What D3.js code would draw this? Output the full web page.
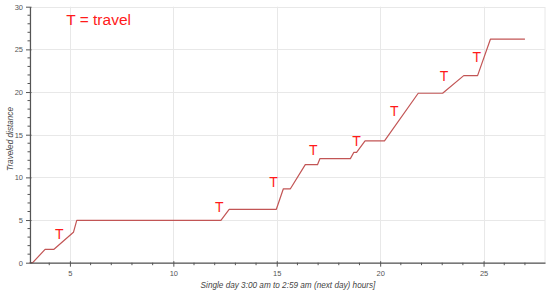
<!DOCTYPE html>
<html>
<head>
<meta charset="utf-8">
<script src="https://cdn.jsdelivr.net/npm/d3@7"></script>
<style>
  html, body { margin: 0; padding: 0; background: #fff; }
  svg { display: block; }
  text { font-family: "Liberation Sans", Arial, Helvetica, sans-serif; }
</style>
</head>
<body>
<svg id="chart" width="550" height="294"></svg>
<script>
// ---- data ----
const hours = [3.05, 3.2, 3.8, 4.23, 5.17, 5.33, 12.3, 12.7, 14.98, 15.32, 15.66, 16.38, 16.97, 17.09, 18.56, 18.73, 18.86, 19.27, 20.21, 21.84, 23.02, 24.04, 24.71, 25.33, 27.0];
const distance = [0, 0, 1.57, 1.57, 3.56, 4.95, 4.95, 6.26, 6.26, 8.66, 8.66, 11.49, 11.49, 12.2, 12.2, 12.94, 12.94, 14.27, 14.27, 19.86, 19.86, 21.92, 21.92, 26.19, 26.19];
const labelX = [4.49, 12.22, 14.84, 16.77, 18.86, 20.68, 23.09, 24.67];
const labelY = [3.36, 6.49, 9.43, 13.15, 14.30, 17.82, 21.89, 24.15];
const labelText = "T";
const legendText = "T = travel";
const legendPos = [4.82, 27.85];
const xTicks = [5, 10, 15, 20, 25];
const yTicks = [0, 5, 10, 15, 20, 25, 30];
const xMinor = [4, 6, 7, 8, 9, 11, 12, 13, 14, 16, 17, 18, 19, 21, 22, 23, 24, 26, 27];
const yMinor = d3.range(0, 31).filter(v => v % 5 !== 0);
const xTitle = "Single day 3:00 am to 2:59 am (next day) hours]";
const yTitle = "Traveled distance";

// ---- layout ----
const svg = d3.select("#chart");
const pLeft = 30, pRight = 545, pTop = 6.7, pBottom = 262.7;
const x = d3.scaleLinear().domain([3.07, 27.97]).range([pLeft, pRight]);
const y = d3.scaleLinear().domain([0, 30]).range([pBottom, pTop]);

// grid
const grid = svg.append("g").attr("stroke", "#e8e8e8").attr("stroke-width", 1);
grid.selectAll(".vx").data(xTicks).join("line")
  .attr("x1", d => Math.round(x(d)) + 0.5).attr("x2", d => Math.round(x(d)) + 0.5)
  .attr("y1", pTop).attr("y2", pBottom);
grid.selectAll(".hy").data(yTicks.filter(d => d > 0)).join("line")
  .attr("y1", d => Math.round(y(d)) + 0.5).attr("y2", d => Math.round(y(d)) + 0.5)
  .attr("x1", pLeft).attr("x2", pRight);
// outline
svg.append("rect").attr("x", pLeft).attr("y", Math.round(pTop) + 0.5)
  .attr("width", pRight - pLeft).attr("height", pBottom - pTop)
  .attr("fill", "none").attr("stroke", "#e8e8e8");

// line
const line = d3.line().x((d, i) => x(hours[i])).y((d, i) => y(distance[i]));
svg.append("path").datum(distance)
  .attr("d", line).attr("fill", "none")
  .attr("stroke", "#c25555").attr("stroke-width", 1.2).attr("stroke-linejoin", "round");

// T labels
svg.append("g").selectAll("text").data(labelX).join("text")
  .attr("x", (d) => x(d)).attr("y", (d, i) => y(labelY[i]))
  .attr("text-anchor", "middle").attr("dominant-baseline", "central")
  .attr("fill", "#ff1a1a").attr("font-size", 14).text(labelText);

svg.append("text").attr("x", x(legendPos[0])).attr("y", y(legendPos[1]))
  .attr("fill", "#ff1a1a").attr("font-size", 15.5).text(legendText);

// axes
const xAxis = d3.axisBottom(x).tickValues(xTicks).tickSizeInner(4).tickSizeOuter(0).tickPadding(4).tickFormat(d3.format("d"));
const gx = svg.append("g").attr("transform", `translate(0,${pBottom})`).call(xAxis);
const yAxis = d3.axisLeft(y).tickValues(yTicks).tickSizeInner(4).tickSizeOuter(0).tickPadding(3).tickFormat(d3.format("d"));
const gy = svg.append("g").attr("transform", `translate(${pLeft},0)`).call(yAxis);
[gx, gy].forEach(g => {
  g.select(".domain").attr("stroke", "#555").attr("stroke-width", 1.2);
  g.selectAll(".tick line").attr("stroke", "#555");
  g.selectAll(".tick text").attr("fill", "#555").attr("font-size", 7.5)
    .attr("font-family", "Liberation Sans, Arial, sans-serif");
});
// inner part of major ticks
gx.selectAll(".tick line").attr("y1", -1.5);
gy.selectAll(".tick line").attr("x1", 1.5);
// minor ticks
gx.selectAll(".minor").data(xMinor).join("line").attr("class", "minor")
  .attr("x1", d => x(d)).attr("x2", d => x(d)).attr("y1", 0).attr("y2", 2.5).attr("stroke", "#555");
gy.selectAll(".minor").data(yMinor).join("line").attr("class", "minor")
  .attr("y1", d => y(d)).attr("y2", d => y(d)).attr("x1", 0).attr("x2", -2.5).attr("stroke", "#555");

// titles
svg.append("text").attr("x", 288).attr("y", 288).attr("text-anchor", "middle")
  .attr("font-style", "italic").attr("font-size", 8.2).attr("fill", "#444").text(xTitle);
svg.append("text").attr("transform", "translate(13,139) rotate(-90)").attr("text-anchor", "middle")
  .attr("font-style", "italic").attr("font-size", 8.2).attr("fill", "#444").text(yTitle);
</script>
</body>
</html>
